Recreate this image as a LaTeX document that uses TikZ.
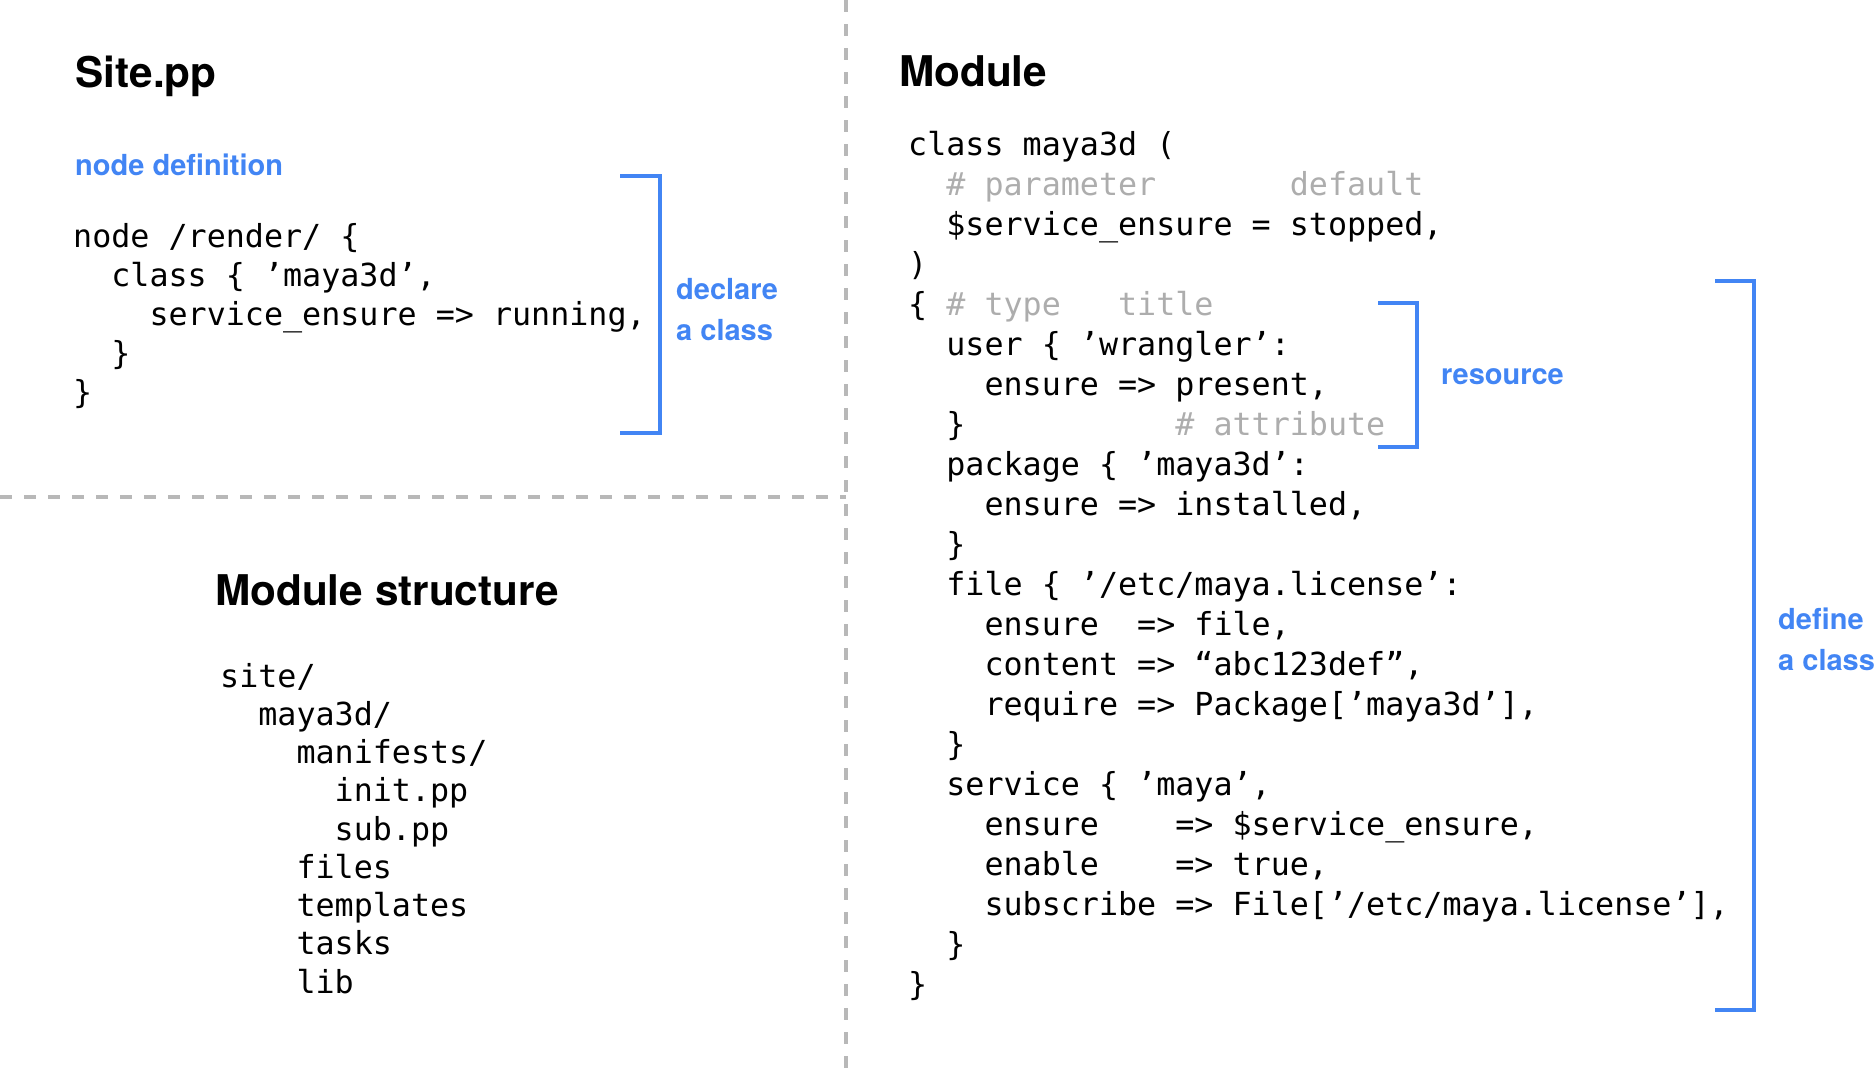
\documentclass[tikz,border=0pt]{standalone}
\usepackage{fontspec}
\setmainfont{TeX Gyre Heros}
\setmonofont{DejaVu Sans Mono}
\usepackage{tikz}
\usepackage{xcolor}

\definecolor{gblue}{HTML}{4285F4}
\definecolor{cgrey}{HTML}{ADADAD}
\definecolor{lgrey}{HTML}{B8B8B8}

\tikzset{
  code/.style={anchor=base west, inner sep=0pt, font=\ttfamily\fontsize{31.7}{40}\selectfont},
  title/.style={anchor=base west, inner sep=0pt, font=\bfseries\fontsize{42.3}{50}\selectfont},
  note/.style={anchor=base west, inner sep=0pt, text=gblue, font=\bfseries\fontsize{29}{36}\selectfont},
  bracket/.style={draw=gblue, line width=4pt},
  divider/.style={draw=lgrey, line width=4pt, dash pattern=on 12pt off 12pt}
}
\newcommand{\cmt}[1]{\textcolor{cgrey}{#1}}
\newcommand{\us}{\symbol{95}}

\begin{document}
\begin{tikzpicture}[x=1pt,y=-1pt]
  \useasboundingbox (0,0) rectangle (1876,1080);
  \draw[divider] (846,0) -- (846,1068);
  \draw[divider] (0,497) -- (846,497);

  % site.pp
  \node[title] (site) at (75.5,87) {Site.pp};
  \node[note] (nodedef) at (75,175) {node definition};
  \foreach \row [count=\i] in {
      {node /render/ \{},
      {\ \ class \{ ’maya3d’,},
      {\ \ \ \ service\us ensure => running,},
      {\ \ \}},
      {\}}}
    \node[code] (s\i) at (73,{208+39*\i}) {\row};
  \draw[bracket] (620,176) -- (660,176) -- (660,433) -- (620,433);
  \node[note] (decl1) at (676,299.5) {declare};
  \node[note] (decl2) at (676,340) {a class};

  % module structure
  \node[title] (struct) at (215,605) {Module structure};
  \foreach \row [count=\i] in {
      {site/},
      {\ \ maya3d/},
      {\ \ \ \ manifests/},
      {\ \ \ \ \ \ init.pp},
      {\ \ \ \ \ \ sub.pp},
      {\ \ \ \ files},
      {\ \ \ \ templates},
      {\ \ \ \ tasks},
      {\ \ \ \ lib}}
    \node[code] (t\i) at (220,{648.75+38.25*\i}) {\row};

  % module
  \node[title] (module) at (899,86) {Module};
  \foreach \row [count=\i] in {
      {class maya3d (},
      {\ \ \cmt{\#\ parameter\ \ \ \ \ \ \ default}},
      {\ \ \$service\us ensure = stopped,},
      {)},
      {\{ \cmt{\#\ type\ \ \ title}},
      {\ \ user \{ ’wrangler’:},
      {\ \ \ \ ensure => present,},
      {\ \ \}\ \ \ \ \ \ \ \ \ \ \ \cmt{\#\ attribute}},
      {\ \ package \{ ’maya3d’:},
      {\ \ \ \ ensure => installed,},
      {\ \ \}},
      {\ \ file \{ ’/etc/maya.license’:},
      {\ \ \ \ ensure\ \ =>\ file,},
      {\ \ \ \ content =>\ “abc123def”,},
      {\ \ \ \ require =>\ Package[’maya3d’],},
      {\ \ \}},
      {\ \ service \{ ’maya’,},
      {\ \ \ \ ensure\ \ \ \ =>\ \$service\us ensure,},
      {\ \ \ \ enable\ \ \ \ =>\ true,},
      {\ \ \ \ subscribe =>\ File[’/etc/maya.license’],},
      {\ \ \}},
      {\}}}
    \node[code] (m\i) at (908,{115+40*\i}) {\row};
  \draw[bracket] (1378,303) -- (1417,303) -- (1417,447) -- (1378,447);
  \node[note] (res) at (1441,384) {resource};
  \draw[bracket] (1715,281) -- (1754,281) -- (1754,1010) -- (1715,1010);
  \node[note] (def1) at (1778,629) {define};
  \node[note] (def2) at (1778,670) {a class};
\end{tikzpicture}
\end{document}
